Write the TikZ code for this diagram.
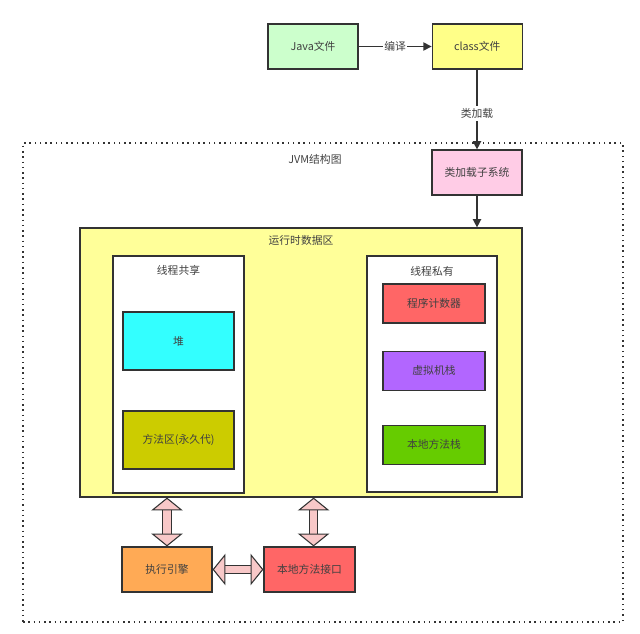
\documentclass[tikz,border=0pt]{standalone}
\usepackage{fontspec}
\setmainfont{Noto Sans CJK SC}
\usepackage{xcolor}
\usetikzlibrary{arrows.meta,positioning,calc}

\definecolor{linegray}{HTML}{333333}
\definecolor{textgray}{HTML}{404040}
\definecolor{javagreen}{HTML}{CCFFCC}
\definecolor{classyellow}{HTML}{FFFF88}
\definecolor{loaderpink}{HTML}{FFCCE6}
\definecolor{areayellow}{HTML}{FFFF99}
\definecolor{heapcyan}{HTML}{33FFFF}
\definecolor{methodolive}{HTML}{CCCC00}
\definecolor{pcred}{HTML}{FF6666}
\definecolor{stackpurple}{HTML}{B266FF}
\definecolor{nativegreen}{HTML}{66CC00}
\definecolor{execorange}{HTML}{FFAA55}
\definecolor{linkpink}{HTML}{F8C8C8}

\begin{document}
\begin{tikzpicture}[
    x=0.03cm, y=-0.03cm,
    font=\fontsize{9.2}{10.5}\selectfont\color{textgray},
    box/.style={draw=linegray, line width=1pt, minimum width=2.7cm, minimum height=1.35cm, align=center},
    area/.style={draw=linegray, line width=1pt, fill=white},
    inner/.style={draw=linegray, line width=1pt, minimum width=3.33cm, minimum height=1.74cm},
    priv/.style={draw=linegray, line width=1pt, minimum width=3.06cm, minimum height=1.17cm},
    arrow/.style={-{Triangle[length=7pt,width=7pt]}, draw=linegray, line width=1.1pt},
    fatlink/.style={{Triangle[length=11pt,width=27pt,fill=linkpink,line width=0.9pt]}-{Triangle[length=11pt,width=27pt,fill=linkpink,line width=0.9pt]},
        draw=linegray, line width=0.9pt, double=linkpink, double distance=6pt}
]
\useasboundingbox (0,0) rectangle (640,633);

% outside the JVM
\node[box, fill=javagreen] (java) at (313,46.5) {Java文件};
\node[box, fill=classyellow, right=2.19cm of java] (cls) {class文件};

% JVM frame
\node[draw=linegray, line width=1.3pt, dash pattern=on 1.3pt off 3.2pt,
      minimum width=18cm, minimum height=14.37cm] (jvm) at (323,382.5) {};
\node (jvmlabel) at (315,159) {JVM结构图};
\node[box, fill=loaderpink] (loader) at (477,172.5) {类加载子系统};

% runtime data area
\node[area, fill=areayellow, minimum width=13.26cm, minimum height=8.07cm] (runtime) at (301,362.5) {};
\node (runtimelabel) at (301,240) {运行时数据区};

\node[area, minimum width=3.93cm, minimum height=7.11cm] (shared) at (178.5,374.5) {};
\node (sharedlabel) at (178.5,270) {线程共享};
\node[inner, fill=heapcyan] (heap) at (178.5,341) {堆};
\node[inner, fill=methodolive] (method) at (178.5,440) {方法区(永久代)};

\node[area, minimum width=3.9cm, minimum height=7.08cm] (private) at (432,374) {};
\node (privatelabel) at (432,271) {线程私有};
\node[priv, fill=pcred] (pc) at (434,303.5) {程序计数器};
\node[priv, fill=stackpurple, below=0.81cm of pc] (vmstack) {虚拟机栈};
\node[priv, fill=nativegreen, below=1.02cm of vmstack] (nstack) {本地方法栈};

% engine and native interface
\node[box, fill=execorange] (exec) at (167,569.5) {执行引擎};
\node[box, fill=pcred, minimum width=2.73cm] (native) at (309.5,569.5) {本地方法接口};

% connectors
\draw[arrow] (java) -- node[fill=white, inner sep=1pt] {编译} (cls);
\draw[arrow] (cls.south -| loader) -- node[fill=white, inner sep=2pt, pos=0.55] {类加载} (loader.north);
\draw[arrow] (loader.south) -- (loader.south |- runtime.north);

\draw[fatlink] (exec.north) -- (exec.north |- runtime.south);
\draw[fatlink] ([xshift=3.5]native.north) -- ([xshift=3.5]native.north |- runtime.south);
\draw[fatlink] (exec.east) -- (native.west);
\end{tikzpicture}
\end{document}
